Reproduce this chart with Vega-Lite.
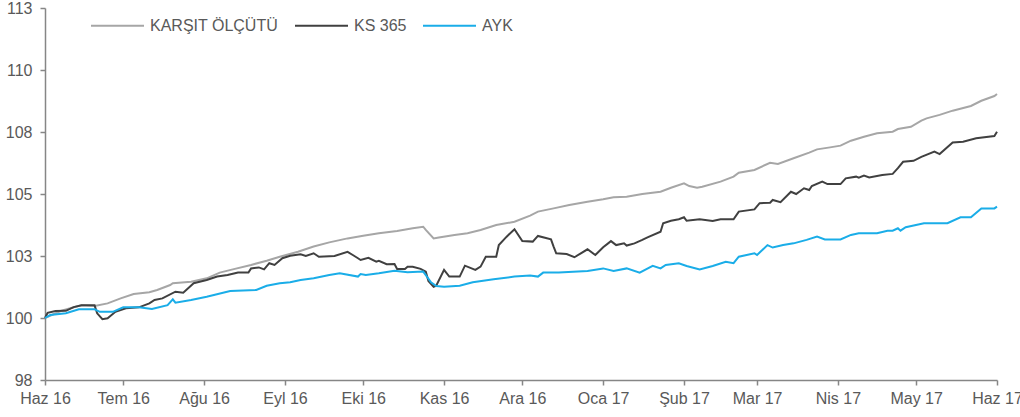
{
  "$schema": "https://vega.github.io/schema/vega-lite/v6.json",
  "width": 952,
  "height": 372,
  "autosize": {"type": "none"},
  "padding": {"left": 45, "top": 8, "right": 23, "bottom": 37},
  "background": "white",
  "config": {"view": {"stroke": null}, "font": "Liberation Sans"},
  "data": {"values": [
    {"date":"2016-06-01","series":"KARŞIT ÖLÇÜTÜ","value":100.0},
    {"date":"2016-06-07","series":"KARŞIT ÖLÇÜTÜ","value":100.28},
    {"date":"2016-06-12","series":"KARŞIT ÖLÇÜTÜ","value":100.43},
    {"date":"2016-06-15","series":"KARŞIT ÖLÇÜTÜ","value":100.51},
    {"date":"2016-06-20","series":"KARŞIT ÖLÇÜTÜ","value":100.48},
    {"date":"2016-06-25","series":"KARŞIT ÖLÇÜTÜ","value":100.59},
    {"date":"2016-06-30","series":"KARŞIT ÖLÇÜTÜ","value":100.79},
    {"date":"2016-07-05","series":"KARŞIT ÖLÇÜTÜ","value":100.97},
    {"date":"2016-07-11","series":"KARŞIT ÖLÇÜTÜ","value":101.04},
    {"date":"2016-07-14","series":"KARŞIT ÖLÇÜTÜ","value":101.13},
    {"date":"2016-07-19","series":"KARŞIT ÖLÇÜTÜ","value":101.33},
    {"date":"2016-07-20","series":"KARŞIT ÖLÇÜTÜ","value":101.40},
    {"date":"2016-07-27","series":"KARŞIT ÖLÇÜTÜ","value":101.46},
    {"date":"2016-08-02","series":"KARŞIT ÖLÇÜTÜ","value":101.60},
    {"date":"2016-08-07","series":"KARŞIT ÖLÇÜTÜ","value":101.83},
    {"date":"2016-08-12","series":"KARŞIT ÖLÇÜTÜ","value":101.96},
    {"date":"2016-08-19","series":"KARŞIT ÖLÇÜTÜ","value":102.14},
    {"date":"2016-08-25","series":"KARŞIT ÖLÇÜTÜ","value":102.31},
    {"date":"2016-08-30","series":"KARŞIT ÖLÇÜTÜ","value":102.47},
    {"date":"2016-09-06","series":"KARŞIT ÖLÇÜTÜ","value":102.67},
    {"date":"2016-09-12","series":"KARŞIT ÖLÇÜTÜ","value":102.88},
    {"date":"2016-09-18","series":"KARŞIT ÖLÇÜTÜ","value":103.05},
    {"date":"2016-09-25","series":"KARŞIT ÖLÇÜTÜ","value":103.21},
    {"date":"2016-10-01","series":"KARŞIT ÖLÇÜTÜ","value":103.32},
    {"date":"2016-10-07","series":"KARŞIT ÖLÇÜTÜ","value":103.42},
    {"date":"2016-10-14","series":"KARŞIT ÖLÇÜTÜ","value":103.51},
    {"date":"2016-10-20","series":"KARŞIT ÖLÇÜTÜ","value":103.62},
    {"date":"2016-10-24","series":"KARŞIT ÖLÇÜTÜ","value":103.68},
    {"date":"2016-10-25","series":"KARŞIT ÖLÇÜTÜ","value":103.55},
    {"date":"2016-10-28","series":"KARŞIT ÖLÇÜTÜ","value":103.21},
    {"date":"2016-10-30","series":"KARŞIT ÖLÇÜTÜ","value":103.25},
    {"date":"2016-11-05","series":"KARŞIT ÖLÇÜTÜ","value":103.35},
    {"date":"2016-11-10","series":"KARŞIT ÖLÇÜTÜ","value":103.42},
    {"date":"2016-11-15","series":"KARŞIT ÖLÇÜTÜ","value":103.55},
    {"date":"2016-11-21","series":"KARŞIT ÖLÇÜTÜ","value":103.75},
    {"date":"2016-11-28","series":"KARŞIT ÖLÇÜTÜ","value":103.88},
    {"date":"2016-12-04","series":"KARŞIT ÖLÇÜTÜ","value":104.13},
    {"date":"2016-12-07","series":"KARŞIT ÖLÇÜTÜ","value":104.29},
    {"date":"2016-12-13","series":"KARŞIT ÖLÇÜTÜ","value":104.42},
    {"date":"2016-12-19","series":"KARŞIT ÖLÇÜTÜ","value":104.56},
    {"date":"2016-12-26","series":"KARŞIT ÖLÇÜTÜ","value":104.69},
    {"date":"2017-01-01","series":"KARŞIT ÖLÇÜTÜ","value":104.79},
    {"date":"2017-01-05","series":"KARŞIT ÖLÇÜTÜ","value":104.87},
    {"date":"2017-01-10","series":"KARŞIT ÖLÇÜTÜ","value":104.89},
    {"date":"2017-01-16","series":"KARŞIT ÖLÇÜTÜ","value":105.00},
    {"date":"2017-01-23","series":"KARŞIT ÖLÇÜTÜ","value":105.09},
    {"date":"2017-01-27","series":"KARŞIT ÖLÇÜTÜ","value":105.25},
    {"date":"2017-02-01","series":"KARŞIT ÖLÇÜTÜ","value":105.43},
    {"date":"2017-02-03","series":"KARŞIT ÖLÇÜTÜ","value":105.32},
    {"date":"2017-02-06","series":"KARŞIT ÖLÇÜTÜ","value":105.25},
    {"date":"2017-02-08","series":"KARŞIT ÖLÇÜTÜ","value":105.29},
    {"date":"2017-02-15","series":"KARŞIT ÖLÇÜTÜ","value":105.50},
    {"date":"2017-02-20","series":"KARŞIT ÖLÇÜTÜ","value":105.70},
    {"date":"2017-02-22","series":"KARŞIT ÖLÇÜTÜ","value":105.86},
    {"date":"2017-02-28","series":"KARŞIT ÖLÇÜTÜ","value":105.97},
    {"date":"2017-03-06","series":"KARŞIT ÖLÇÜTÜ","value":106.26},
    {"date":"2017-03-09","series":"KARŞIT ÖLÇÜTÜ","value":106.21},
    {"date":"2017-03-15","series":"KARŞIT ÖLÇÜTÜ","value":106.44},
    {"date":"2017-03-21","series":"KARŞIT ÖLÇÜTÜ","value":106.67},
    {"date":"2017-03-24","series":"KARŞIT ÖLÇÜTÜ","value":106.80},
    {"date":"2017-03-29","series":"KARŞIT ÖLÇÜTÜ","value":106.88},
    {"date":"2017-04-02","series":"KARŞIT ÖLÇÜTÜ","value":106.95},
    {"date":"2017-04-06","series":"KARŞIT ÖLÇÜTÜ","value":107.15},
    {"date":"2017-04-11","series":"KARŞIT ÖLÇÜTÜ","value":107.31},
    {"date":"2017-04-16","series":"KARŞIT ÖLÇÜTÜ","value":107.45},
    {"date":"2017-04-22","series":"KARŞIT ÖLÇÜTÜ","value":107.51},
    {"date":"2017-04-24","series":"KARŞIT ÖLÇÜTÜ","value":107.62},
    {"date":"2017-04-29","series":"KARŞIT ÖLÇÜTÜ","value":107.71},
    {"date":"2017-05-03","series":"KARŞIT ÖLÇÜTÜ","value":107.96},
    {"date":"2017-05-05","series":"KARŞIT ÖLÇÜTÜ","value":108.05},
    {"date":"2017-05-10","series":"KARŞIT ÖLÇÜTÜ","value":108.19},
    {"date":"2017-05-15","series":"KARŞIT ÖLÇÜTÜ","value":108.36},
    {"date":"2017-05-22","series":"KARŞIT ÖLÇÜTÜ","value":108.55},
    {"date":"2017-05-26","series":"KARŞIT ÖLÇÜTÜ","value":108.76},
    {"date":"2017-05-31","series":"KARŞIT ÖLÇÜTÜ","value":108.95},
    {"date":"2017-06-01","series":"KARŞIT ÖLÇÜTÜ","value":109.03},

    {"date":"2016-06-01","series":"KS 365","value":100.0},
    {"date":"2016-06-02","series":"KS 365","value":100.21},
    {"date":"2016-06-05","series":"KS 365","value":100.28},
    {"date":"2016-06-09","series":"KS 365","value":100.29},
    {"date":"2016-06-12","series":"KS 365","value":100.44},
    {"date":"2016-06-15","series":"KS 365","value":100.51},
    {"date":"2016-06-20","series":"KS 365","value":100.51},
    {"date":"2016-06-21","series":"KS 365","value":100.19},
    {"date":"2016-06-23","series":"KS 365","value":99.95},
    {"date":"2016-06-25","series":"KS 365","value":99.99},
    {"date":"2016-06-28","series":"KS 365","value":100.25},
    {"date":"2016-07-02","series":"KS 365","value":100.39},
    {"date":"2016-07-07","series":"KS 365","value":100.43},
    {"date":"2016-07-11","series":"KS 365","value":100.59},
    {"date":"2016-07-13","series":"KS 365","value":100.73},
    {"date":"2016-07-16","series":"KS 365","value":100.79},
    {"date":"2016-07-21","series":"KS 365","value":101.06},
    {"date":"2016-07-24","series":"KS 365","value":101.02},
    {"date":"2016-07-28","series":"KS 365","value":101.40},
    {"date":"2016-08-02","series":"KS 365","value":101.53},
    {"date":"2016-08-06","series":"KS 365","value":101.67},
    {"date":"2016-08-10","series":"KS 365","value":101.73},
    {"date":"2016-08-14","series":"KS 365","value":101.83},
    {"date":"2016-08-18","series":"KS 365","value":101.83},
    {"date":"2016-08-19","series":"KS 365","value":102.00},
    {"date":"2016-08-22","series":"KS 365","value":102.04},
    {"date":"2016-08-24","series":"KS 365","value":101.96},
    {"date":"2016-08-26","series":"KS 365","value":102.21},
    {"date":"2016-08-28","series":"KS 365","value":102.14},
    {"date":"2016-08-31","series":"KS 365","value":102.41},
    {"date":"2016-09-03","series":"KS 365","value":102.51},
    {"date":"2016-09-07","series":"KS 365","value":102.57},
    {"date":"2016-09-09","series":"KS 365","value":102.50},
    {"date":"2016-09-12","series":"KS 365","value":102.61},
    {"date":"2016-09-14","series":"KS 365","value":102.47},
    {"date":"2016-09-20","series":"KS 365","value":102.50},
    {"date":"2016-09-25","series":"KS 365","value":102.67},
    {"date":"2016-09-27","series":"KS 365","value":102.54},
    {"date":"2016-09-29","series":"KS 365","value":102.41},
    {"date":"2016-09-30","series":"KS 365","value":102.34},
    {"date":"2016-10-03","series":"KS 365","value":102.43},
    {"date":"2016-10-06","series":"KS 365","value":102.27},
    {"date":"2016-10-07","series":"KS 365","value":102.31},
    {"date":"2016-10-10","series":"KS 365","value":102.17},
    {"date":"2016-10-13","series":"KS 365","value":102.18},
    {"date":"2016-10-14","series":"KS 365","value":101.98},
    {"date":"2016-10-17","series":"KS 365","value":101.98},
    {"date":"2016-10-18","series":"KS 365","value":102.07},
    {"date":"2016-10-20","series":"KS 365","value":102.07},
    {"date":"2016-10-23","series":"KS 365","value":101.98},
    {"date":"2016-10-25","series":"KS 365","value":101.87},
    {"date":"2016-10-26","series":"KS 365","value":101.49},
    {"date":"2016-10-28","series":"KS 365","value":101.26},
    {"date":"2016-10-29","series":"KS 365","value":101.30},
    {"date":"2016-11-01","series":"KS 365","value":101.94},
    {"date":"2016-11-03","series":"KS 365","value":101.67},
    {"date":"2016-11-07","series":"KS 365","value":101.67},
    {"date":"2016-11-09","series":"KS 365","value":102.11},
    {"date":"2016-11-13","series":"KS 365","value":101.94},
    {"date":"2016-11-15","series":"KS 365","value":102.07},
    {"date":"2016-11-17","series":"KS 365","value":102.47},
    {"date":"2016-11-21","series":"KS 365","value":102.47},
    {"date":"2016-11-22","series":"KS 365","value":102.94},
    {"date":"2016-11-25","series":"KS 365","value":103.28},
    {"date":"2016-11-28","series":"KS 365","value":103.58},
    {"date":"2016-12-01","series":"KS 365","value":103.10},
    {"date":"2016-12-05","series":"KS 365","value":103.08},
    {"date":"2016-12-07","series":"KS 365","value":103.31},
    {"date":"2016-12-12","series":"KS 365","value":103.17},
    {"date":"2016-12-13","series":"KS 365","value":102.88},
    {"date":"2016-12-14","series":"KS 365","value":102.61},
    {"date":"2016-12-18","series":"KS 365","value":102.58},
    {"date":"2016-12-21","series":"KS 365","value":102.45},
    {"date":"2016-12-26","series":"KS 365","value":102.77},
    {"date":"2016-12-29","series":"KS 365","value":102.54},
    {"date":"2017-01-01","series":"KS 365","value":102.85},
    {"date":"2017-01-04","series":"KS 365","value":103.10},
    {"date":"2017-01-06","series":"KS 365","value":102.94},
    {"date":"2017-01-09","series":"KS 365","value":103.01},
    {"date":"2017-01-10","series":"KS 365","value":102.92},
    {"date":"2017-01-13","series":"KS 365","value":103.01},
    {"date":"2017-01-16","series":"KS 365","value":103.15},
    {"date":"2017-01-18","series":"KS 365","value":103.25},
    {"date":"2017-01-23","series":"KS 365","value":103.48},
    {"date":"2017-01-24","series":"KS 365","value":103.82},
    {"date":"2017-01-27","series":"KS 365","value":103.92},
    {"date":"2017-01-30","series":"KS 365","value":103.98},
    {"date":"2017-02-01","series":"KS 365","value":104.06},
    {"date":"2017-02-02","series":"KS 365","value":103.92},
    {"date":"2017-02-07","series":"KS 365","value":103.98},
    {"date":"2017-02-12","series":"KS 365","value":103.91},
    {"date":"2017-02-15","series":"KS 365","value":103.98},
    {"date":"2017-02-20","series":"KS 365","value":103.98},
    {"date":"2017-02-22","series":"KS 365","value":104.29},
    {"date":"2017-02-28","series":"KS 365","value":104.38},
    {"date":"2017-03-02","series":"KS 365","value":104.63},
    {"date":"2017-03-06","series":"KS 365","value":104.65},
    {"date":"2017-03-07","series":"KS 365","value":104.76},
    {"date":"2017-03-10","series":"KS 365","value":104.67},
    {"date":"2017-03-14","series":"KS 365","value":105.09},
    {"date":"2017-03-16","series":"KS 365","value":105.00},
    {"date":"2017-03-19","series":"KS 365","value":105.23},
    {"date":"2017-03-21","series":"KS 365","value":105.16},
    {"date":"2017-03-22","series":"KS 365","value":105.32},
    {"date":"2017-03-26","series":"KS 365","value":105.50},
    {"date":"2017-03-28","series":"KS 365","value":105.40},
    {"date":"2017-04-02","series":"KS 365","value":105.40},
    {"date":"2017-04-04","series":"KS 365","value":105.63},
    {"date":"2017-04-08","series":"KS 365","value":105.70},
    {"date":"2017-04-09","series":"KS 365","value":105.66},
    {"date":"2017-04-11","series":"KS 365","value":105.74},
    {"date":"2017-04-13","series":"KS 365","value":105.67},
    {"date":"2017-04-18","series":"KS 365","value":105.77},
    {"date":"2017-04-22","series":"KS 365","value":105.81},
    {"date":"2017-04-24","series":"KS 365","value":106.04},
    {"date":"2017-04-26","series":"KS 365","value":106.30},
    {"date":"2017-04-30","series":"KS 365","value":106.34},
    {"date":"2017-05-03","series":"KS 365","value":106.50},
    {"date":"2017-05-08","series":"KS 365","value":106.71},
    {"date":"2017-05-10","series":"KS 365","value":106.61},
    {"date":"2017-05-15","series":"KS 365","value":107.08},
    {"date":"2017-05-19","series":"KS 365","value":107.11},
    {"date":"2017-05-24","series":"KS 365","value":107.25},
    {"date":"2017-05-31","series":"KS 365","value":107.34},
    {"date":"2017-06-01","series":"KS 365","value":107.51},

    {"date":"2016-06-01","series":"AYK","value":100.0},
    {"date":"2016-06-03","series":"AYK","value":100.12},
    {"date":"2016-06-09","series":"AYK","value":100.19},
    {"date":"2016-06-14","series":"AYK","value":100.35},
    {"date":"2016-06-20","series":"AYK","value":100.35},
    {"date":"2016-06-22","series":"AYK","value":100.25},
    {"date":"2016-06-27","series":"AYK","value":100.25},
    {"date":"2016-07-01","series":"AYK","value":100.43},
    {"date":"2016-07-07","series":"AYK","value":100.43},
    {"date":"2016-07-12","series":"AYK","value":100.36},
    {"date":"2016-07-18","series":"AYK","value":100.52},
    {"date":"2016-07-20","series":"AYK","value":100.75},
    {"date":"2016-07-21","series":"AYK","value":100.62},
    {"date":"2016-07-27","series":"AYK","value":100.73},
    {"date":"2016-08-02","series":"AYK","value":100.86},
    {"date":"2016-08-11","series":"AYK","value":101.09},
    {"date":"2016-08-21","series":"AYK","value":101.13},
    {"date":"2016-08-25","series":"AYK","value":101.30},
    {"date":"2016-08-30","series":"AYK","value":101.40},
    {"date":"2016-09-03","series":"AYK","value":101.44},
    {"date":"2016-09-07","series":"AYK","value":101.53},
    {"date":"2016-09-12","series":"AYK","value":101.60},
    {"date":"2016-09-18","series":"AYK","value":101.73},
    {"date":"2016-09-22","series":"AYK","value":101.80},
    {"date":"2016-09-29","series":"AYK","value":101.67},
    {"date":"2016-09-30","series":"AYK","value":101.77},
    {"date":"2016-10-02","series":"AYK","value":101.73},
    {"date":"2016-10-07","series":"AYK","value":101.80},
    {"date":"2016-10-13","series":"AYK","value":101.90},
    {"date":"2016-10-18","series":"AYK","value":101.84},
    {"date":"2016-10-24","series":"AYK","value":101.87},
    {"date":"2016-10-25","series":"AYK","value":101.73},
    {"date":"2016-10-27","series":"AYK","value":101.44},
    {"date":"2016-10-29","series":"AYK","value":101.29},
    {"date":"2016-11-01","series":"AYK","value":101.26},
    {"date":"2016-11-07","series":"AYK","value":101.30},
    {"date":"2016-11-12","series":"AYK","value":101.44},
    {"date":"2016-11-20","series":"AYK","value":101.56},
    {"date":"2016-11-28","series":"AYK","value":101.67},
    {"date":"2016-12-04","series":"AYK","value":101.71},
    {"date":"2016-12-07","series":"AYK","value":101.67},
    {"date":"2016-12-09","series":"AYK","value":101.83},
    {"date":"2016-12-15","series":"AYK","value":101.83},
    {"date":"2016-12-26","series":"AYK","value":101.90},
    {"date":"2017-01-01","series":"AYK","value":102.00},
    {"date":"2017-01-05","series":"AYK","value":101.90},
    {"date":"2017-01-10","series":"AYK","value":102.00},
    {"date":"2017-01-15","series":"AYK","value":101.83},
    {"date":"2017-01-20","series":"AYK","value":102.10},
    {"date":"2017-01-23","series":"AYK","value":102.00},
    {"date":"2017-01-25","series":"AYK","value":102.14},
    {"date":"2017-01-30","series":"AYK","value":102.21},
    {"date":"2017-02-02","series":"AYK","value":102.10},
    {"date":"2017-02-07","series":"AYK","value":101.96},
    {"date":"2017-02-12","series":"AYK","value":102.10},
    {"date":"2017-02-17","series":"AYK","value":102.27},
    {"date":"2017-02-20","series":"AYK","value":102.21},
    {"date":"2017-02-22","series":"AYK","value":102.47},
    {"date":"2017-02-28","series":"AYK","value":102.61},
    {"date":"2017-03-01","series":"AYK","value":102.54},
    {"date":"2017-03-05","series":"AYK","value":102.94},
    {"date":"2017-03-07","series":"AYK","value":102.84},
    {"date":"2017-03-11","series":"AYK","value":102.94},
    {"date":"2017-03-15","series":"AYK","value":103.01},
    {"date":"2017-03-20","series":"AYK","value":103.15},
    {"date":"2017-03-24","series":"AYK","value":103.28},
    {"date":"2017-03-27","series":"AYK","value":103.17},
    {"date":"2017-04-02","series":"AYK","value":103.17},
    {"date":"2017-04-06","series":"AYK","value":103.35},
    {"date":"2017-04-09","series":"AYK","value":103.42},
    {"date":"2017-04-16","series":"AYK","value":103.42},
    {"date":"2017-04-20","series":"AYK","value":103.52},
    {"date":"2017-04-22","series":"AYK","value":103.52},
    {"date":"2017-04-24","series":"AYK","value":103.62},
    {"date":"2017-04-25","series":"AYK","value":103.52},
    {"date":"2017-04-27","series":"AYK","value":103.66},
    {"date":"2017-05-04","series":"AYK","value":103.82},
    {"date":"2017-05-13","series":"AYK","value":103.82},
    {"date":"2017-05-18","series":"AYK","value":104.06},
    {"date":"2017-05-22","series":"AYK","value":104.06},
    {"date":"2017-05-26","series":"AYK","value":104.42},
    {"date":"2017-05-31","series":"AYK","value":104.42},
    {"date":"2017-06-01","series":"AYK","value":104.49}
  ]},
  "mark": {"type": "line", "strokeWidth": 2, "interpolate": "linear"},
  "encoding": {
    "x": {
      "field": "date",
      "type": "temporal",
      "scale": {"type": "utc", "domain": [
        {"year": 2016, "month": 6, "date": 1, "utc": true},
        {"year": 2017, "month": 6, "date": 1, "utc": true}
      ]},
      "axis": {
        "title": null,
        "values": [
          {"year": 2016, "month": 6, "date": 1, "utc": true},
          {"year": 2016, "month": 7, "date": 1, "utc": true},
          {"year": 2016, "month": 8, "date": 1, "utc": true},
          {"year": 2016, "month": 9, "date": 1, "utc": true},
          {"year": 2016, "month": 10, "date": 1, "utc": true},
          {"year": 2016, "month": 11, "date": 1, "utc": true},
          {"year": 2016, "month": 12, "date": 1, "utc": true},
          {"year": 2017, "month": 1, "date": 1, "utc": true},
          {"year": 2017, "month": 2, "date": 1, "utc": true},
          {"year": 2017, "month": 3, "date": 1, "utc": true},
          {"year": 2017, "month": 4, "date": 1, "utc": true},
          {"year": 2017, "month": 5, "date": 1, "utc": true},
          {"year": 2017, "month": 6, "date": 1, "utc": true}
        ],
        "labelExpr": "['Oca','Şub','Mar','Nis','May','Haz','Tem','Ağu','Eyl','Eki','Kas','Ara'][utcmonth(datum.value)] + ' ' + utcFormat(datum.value, '%y')",
        "grid": false,
        "domainColor": "#868686",
        "domainWidth": 1.5,
        "tickColor": "#868686",
        "tickWidth": 1.5,
        "tickSize": 5,
        "labelColor": "#595959",
        "labelFont": "Liberation Sans",
        "labelFontSize": 16,
        "labelPadding": 5,
        "labelFlush": false,
        "labelOverlap": false,
        "labelBound": false
      }
    },
    "y": {
      "field": "value",
      "type": "quantitative",
      "scale": {"domain": [97.5, 112.5], "nice": false, "zero": false},
      "axis": {
        "title": null,
        "values": [97.5, 100, 102.5, 105, 107.5, 110, 112.5],
        "format": ".0f",
        "grid": false,
        "domainColor": "#868686",
        "domainWidth": 1.5,
        "tickColor": "#868686",
        "tickWidth": 1.5,
        "tickSize": 5,
        "labelColor": "#595959",
        "labelFont": "Liberation Sans",
        "labelFontSize": 16,
        "labelPadding": 8,
        "labelFlush": false,
        "labelOverlap": false
      }
    },
    "color": {
      "field": "series",
      "type": "nominal",
      "scale": {
        "domain": ["KARŞIT ÖLÇÜTÜ", "KS 365", "AYK"],
        "range": ["#A6A6A6", "#404040", "#1AADE8"]
      },
      "legend": {
        "title": null,
        "orient": "none",
        "legendX": 45,
        "legendY": -10,
        "direction": "horizontal",
        "symbolType": "stroke",
        "symbolSize": 2809,
        "symbolStrokeWidth": 2,
        "labelFont": "Liberation Sans",
        "labelFontSize": 16,
        "labelColor": "#595959",
        "labelOffset": 5,
        "labelLimit": 300,
        "columnPadding": 12,
        "padding": 0
      }
    }
  }
}
